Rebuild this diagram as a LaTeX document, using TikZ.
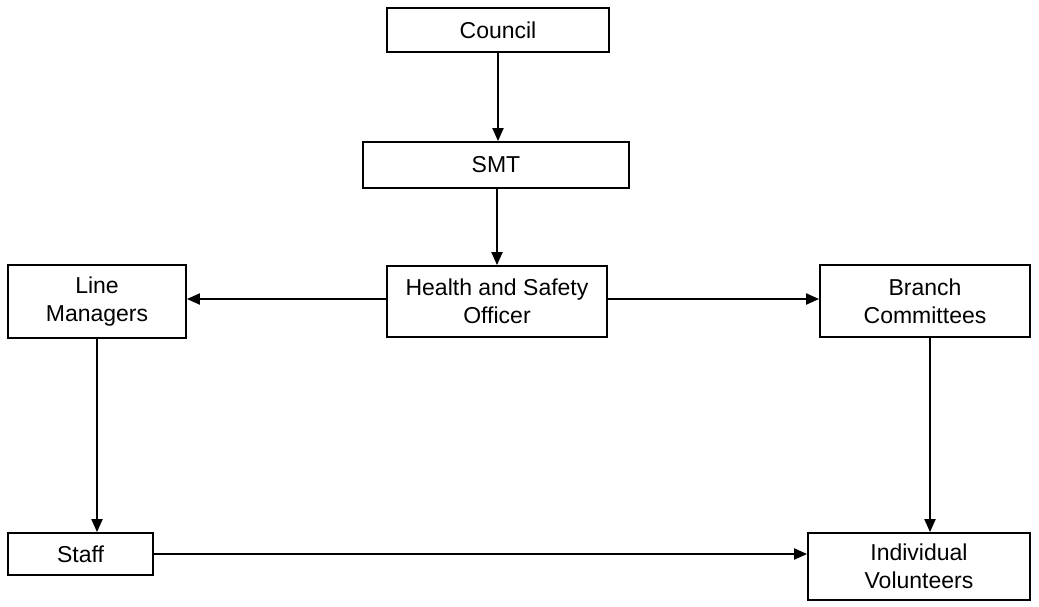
\documentclass[tikz,border=0pt]{standalone}
\usepackage{fontspec}
\setmainfont{Liberation Sans}
\usetikzlibrary{arrows.meta}
\begin{document}
\begin{tikzpicture}[x=1pt,y=-1pt,
  box/.style={draw=black,line width=1.8pt,inner sep=0pt,align=center,
    font=\fontsize{23}{28}\selectfont},
  arr/.style={line width=2pt,-{Triangle[length=13pt,width=11pt]}}]
\useasboundingbox (0,0) rectangle (1039,606);
\newcommand{\boxat}[6]{%
  \node[box,minimum width={#4-#2},minimum height={#5-#3}] (#1) at ({(#2+#4)/2},{(#3+#5)/2}) {#6};}
\boxat{council}{387}{8}{609}{52}{Council}
\boxat{smt}{363}{142}{629}{188}{SMT}
\boxat{hso}{387}{266}{607}{337}{Health and Safety\\Officer}
\boxat{lm}{8}{265}{186}{338}{Line\\Managers}
\boxat{bc}{820}{265}{1030}{337}{Branch\\Committees}
\boxat{staff}{8}{533}{153}{575}{Staff}
\boxat{iv}{808}{533}{1030}{600}{Individual\\Volunteers}
\draw[arr] (council.south) -- (smt.north -| council.south);
\draw[arr] (smt.south -| hso.north) -- (hso.north);
\draw[arr] (hso.west |- 0,299) -- (lm.east |- 0,299);
\draw[arr] (hso.east |- 0,299) -- (bc.west |- 0,299);
\draw[arr] (lm) -- (staff.north -| lm);
\draw[arr] (bc.south -| 930,0) -- (iv.north -| 930,0);
\draw[arr] (staff.east |- 0,554) -- (iv.west |- 0,554);
\end{tikzpicture}
\end{document}
